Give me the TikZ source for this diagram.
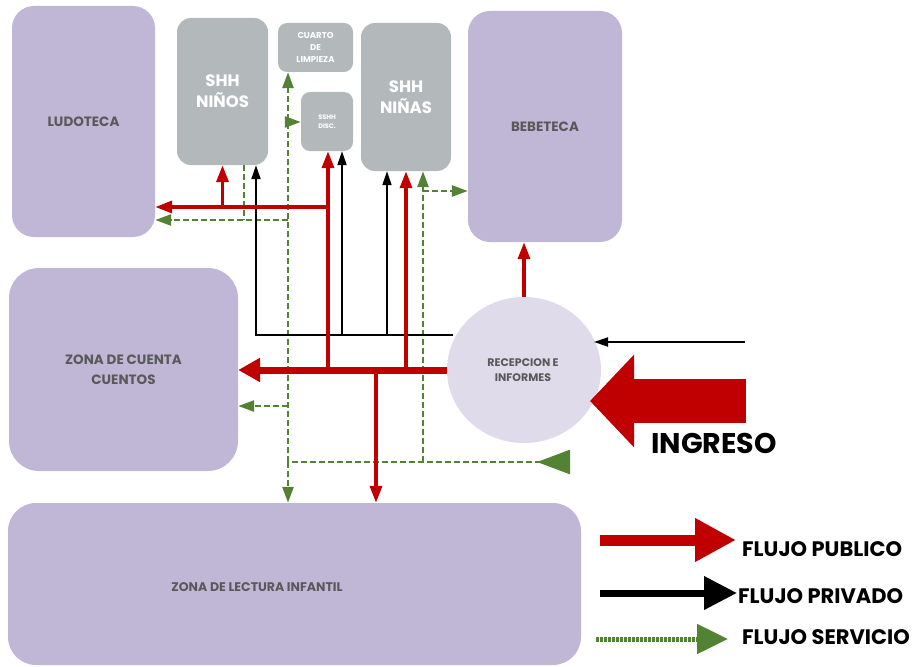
\documentclass[tikz,border=0pt]{standalone}
\usepackage{fontspec}
\setmainfont{Poppins}
\usetikzlibrary{arrows.meta,shapes.geometric}
\definecolor{roomc}{HTML}{C0B7D7}
\definecolor{wcc}{HTML}{B3B9BB}
\definecolor{recc}{HTML}{DFDBEA}
\definecolor{pubred}{HTML}{C00000}
\definecolor{servg}{HTML}{548235}
\definecolor{lblc}{HTML}{595959}
\begin{document}
\begin{tikzpicture}[x=1pt,y=-1pt,
  zone/.style={fill=roomc, draw=none, text=lblc, align=center, inner sep=0pt,
    font=\bfseries\fontsize{13.5}{20}\selectfont},
  zlabel/.style={text=lblc, align=center, inner sep=0pt},
  wcbox/.style={fill=wcc, draw=none, text=white, align=center, inner sep=0pt},
  pubthick/.style={draw=pubred, line width=7pt, -{Triangle[length=22pt,width=23pt]}},
  pub/.style={draw=pubred, line width=3.5pt, -{Triangle[length=17pt,width=12pt]}},
  priv/.style={draw=black, line width=2pt, -{Triangle[length=14pt,width=9pt]}},
  servline/.style={draw=servg, line width=2.6pt, dash pattern=on 6pt off 3pt},
  serv/.style={servline, -{Triangle[length=16pt,width=11pt]}},
  legtxt/.style={anchor=west, font=\bfseries\fontsize{21}{24}\selectfont, inner sep=0pt}
]
\useasboundingbox (0,0) rectangle (920,666);

% rooms
\node[zone, rounded corners=22pt, minimum width=143pt, minimum height=231pt] (ludo) at (83.5,121.5) {LUDOTECA};
\node[zone, rounded corners=22pt, minimum width=154pt, minimum height=231pt] (bebe) at (545,126.5) {BEBETECA};
\node[zone, rounded corners=30pt, minimum width=229pt, minimum height=203pt] (cuenta) at (123.5,369.5) {ZONA DE CUENTA\\CUENTOS};
\node[zone, rounded corners=28pt, minimum width=573pt, minimum height=162pt] (lect) at (294.5,584) {};
\node[zlabel, font=\bfseries\fontsize{12.5}{15}\selectfont] (lectt) at (257,587) {ZONA DE LECTURA INFANTIL};

% toilets
\node[wcbox, rounded corners=14pt, minimum width=91pt, minimum height=147pt, font=\bfseries\fontsize{16.5}{21}\selectfont] (ninos) at (222.5,91.5) {SHH\\NIÑOS};
\node[wcbox, rounded corners=14pt, minimum width=90pt, minimum height=148pt, font=\bfseries\fontsize{16.5}{21}\selectfont] (ninas) at (406,97) {SHH\\NIÑAS};
\node[wcbox, rounded corners=9pt, minimum width=75pt, minimum height=49pt, font=\bfseries\fontsize{8.5}{12}\selectfont] (limp) at (315.5,47.5) {CUARTO\\DE\\LIMPIEZA};
\node[wcbox, rounded corners=9pt, minimum width=52pt, minimum height=59pt, font=\bfseries\fontsize{6.5}{9}\selectfont] (sdisc) at (327,121.5) {SSHH\\DISC.};

% reception
\node[ellipse, fill=recc, draw=none, minimum width=154pt, minimum height=146pt, inner sep=0pt] (recep) at (524,370) {};
\node[zlabel, font=\bfseries\fontsize{11}{15}\selectfont] (recept) at (523,370.5) {RECEPCION E\\INFORMES};

% junction coordinates
\coordinate (r1) at (328,371);
\coordinate (r2) at (406,371);
\coordinate (r3) at (376,371);
\coordinate (r4) at (328,207);
\coordinate (r5) at (222.5,207);
\coordinate (b0) at (256,335);
\coordinate (b1) at (342,335);
\coordinate (b2) at (387,335);
\coordinate (be) at (453,335);
\coordinate (bin) at (745,342);
\coordinate (bt) at (594,342);
\coordinate (g0) at (288,462);
\coordinate (g1) at (288,122);
\coordinate (g2) at (288,220);
\coordinate (g3) at (288,406);
\coordinate (g4) at (423,462);
\coordinate (g5) at (423,191);
\coordinate (g6) at (244,220);
\coordinate (gin) at (570,462);

% service flow (green)
\draw[serv] (g0) -- (g0 |- limp.south);
\draw[serv] (g0) -- (g0 |- lect.north);
\draw[serv] (g1) -- (g1 -| sdisc.west);
\draw[serv] (g2) -- (g2 -| ludo.east);
\draw[servline] (g6 |- ninos.south) -- (g6);
\draw[serv] (g3) -- (g3 -| cuenta.east);
\draw[servline, {Triangle[reversed,length=33pt,width=24pt]}-] (gin) -- (g0);
\draw[serv] (g4) -- (g4 |- ninas.south);
\draw[serv] (g5) -- (g5 -| bebe.west);

% private flow (black)
\draw[priv] (be) -- (b0) -- (b0 |- ninos.south);
\draw[priv] (b1) -- (b1 |- sdisc.south);
\draw[priv] (b2) -- (b2 |- ninas.south);
\draw[priv] (bin) -- (bt);

% public flow (red)
\draw[pub] (r1) -- (r1 |- sdisc.south);
\draw[pub] (r4) -- (r4 -| ludo.east);
\draw[pub] (r5) -- (r5 |- ninos.south);
\draw[pub] (r2) -- (r2 |- ninas.south);
\draw[pub] (r3) -- (r3 |- lect.north);
\draw[pubthick] (recep.west) -- (cuenta.east |- recep.west);
\draw[pub] (recep.north) -- (recep.north |- bebe.south);

% entrance
\coordinate (ing) at (746,401);
\coordinate (ingt) at (590,401);
\draw[pubred, line width=44pt, -{Triangle[length=44pt,width=90pt]}] (ing) -- (ingt);
\node[anchor=west, inner sep=0pt, font=\bfseries\fontsize{28.5}{30}\selectfont] (ingtxt) at (651,443) {INGRESO};

% legend
\coordinate (l1a) at (600,540); \coordinate (l1b) at (736,540);
\coordinate (l2a) at (600,593); \coordinate (l2b) at (737,593);
\coordinate (l3a) at (596,639); \coordinate (l3b) at (728,639);
\draw[pubred, line width=11pt, -{Triangle[length=41pt,width=41pt]}] (l1a) -- (l1b);
\draw[black, line width=7pt, -{Triangle[length=33pt,width=32pt]}] (l2a) -- (l2b);
\draw[servg, line width=5pt, dash pattern=on 3pt off 1pt, -{Triangle[length=31pt,width=29pt]}] (l3a) -- (l3b);
\node[legtxt] (lt1) at (742,549) {FLUJO PUBLICO};
\node[legtxt] (lt2) at (738,596) {FLUJO PRIVADO};
\node[legtxt] (lt3) at (742,637) {FLUJO SERVICIO};
\end{tikzpicture}
\end{document}
